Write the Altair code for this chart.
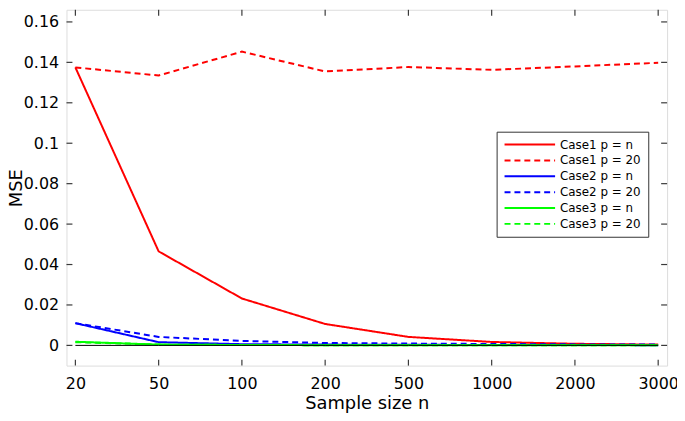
import altair as alt
import pandas as pd

# ---- data ----
sample_sizes = ["20", "50", "100", "200", "500", "1000", "2000", "3000"]
series_names = ["Case1 p = n", "Case1 p = 20", "Case2 p = n",
                "Case2 p = 20", "Case3 p = n", "Case3 p = 20"]
case1_pn = [0.1375, 0.0465, 0.0232, 0.0106, 0.0042, 0.0017, 0.0008, 0.0004]
case1_p20 = [0.1375, 0.1335, 0.1453, 0.1355, 0.1377, 0.1363, 0.1380, 0.1398]
case2_pn = [0.0110, 0.0016, 0.0006, 0.0004, 0.0003, 0.0002, 0.0002, 0.0001]
case2_p20 = [0.0110, 0.0042, 0.0022, 0.0012, 0.0009, 0.0007, 0.0005, 0.0004]
case3_pn = [0.0018, 0.0004, 0.0002, 0.0001, 0.0001, 0.0001, 0.0001, 0.0001]
case3_p20 = [0.0016, 0.0004, 0.0002, 0.0001, 0.0001, 0.0001, 0.0001, 0.0001]
zero_line = [0, 0, 0, 0, 0, 0, 0, 0]
y_ticks = [0, 0.02, 0.04, 0.06, 0.08, 0.1, 0.12, 0.14, 0.16]

colors = ["#ff0000", "#ff0000", "#0000ff", "#0000ff", "#00ff00", "#00ff00"]
dashes = [[1, 0], [6, 4], [1, 0], [6, 4], [1, 0], [6, 4]]

all_series = [case1_pn, case1_p20, case2_pn, case2_p20, case3_pn, case3_p20]
rows = []
for name, vals in zip(series_names, all_series):
    for n, v in zip(sample_sizes, vals):
        rows.append({"n": n, "mse": v, "series": name})
df = pd.DataFrame(rows)
zero_df = pd.DataFrame({"n": sample_sizes, "mse": zero_line})
ytick_df = pd.DataFrame({"v": y_ticks})
xtick_df = pd.DataFrame({"n": sample_sizes})

W, H = 606, 359
FONT = "DejaVu Sans"
FRAME = "#3a3a3a"

xscale = alt.Scale(type="point", padding=0.107, domain=sample_sizes)
yscale = alt.Scale(domain=[-0.01, 0.166], nice=False, zero=False)

x_enc = alt.X("n:O", scale=xscale, sort=sample_sizes,
              axis=alt.Axis(title="Sample size n", labelAngle=0, ticks=False,
                            domain=False, labelPadding=10, titleY=29,
                            labelFontSize=16, titleFontSize=18,
                            labelFont=FONT, titleFont=FONT,
                            labelColor="black", titleColor="black",
                            titleFontWeight="normal"))
y_enc = alt.Y("mse:Q", scale=yscale,
              axis=alt.Axis(title="MSE", values=y_ticks, ticks=False,
                            domain=False, grid=False, labelPadding=8,
                            titleX=-41.5, labelFontSize=16, titleFontSize=18,
                            labelFont=FONT, titleFont=FONT,
                            labelColor="black", titleColor="black",
                            titleFontWeight="normal",
                            labelExpr="datum.value == 0 ? '0' : format(datum.value, '.2~f')"))

lines = alt.Chart(df).mark_line(strokeWidth=2).encode(
    x=x_enc,
    y=y_enc,
    color=alt.Color("series:N", sort=series_names,
                    scale=alt.Scale(domain=series_names, range=colors),
                    legend=alt.Legend(title=None, orient="none",
                                      legendX=434, legendY=123,
                                      symbolType="M-1,0H9.2", symbolSize=100,
                                      symbolStrokeWidth=2, labelFontSize=12,
                                      labelFont=FONT, labelColor="black",
                                      rowPadding=4, padding=7,
                                      strokeColor="#333333", fillColor="white",
                                      labelOffset=45)),
    strokeDash=alt.StrokeDash("series:N", sort=series_names,
                              scale=alt.Scale(domain=series_names, range=dashes)),
)

zero = alt.Chart(zero_df).mark_line(color="black", strokeWidth=1).encode(
    x=alt.X("n:O", scale=xscale, sort=sample_sizes),
    y=alt.Y("mse:Q", scale=yscale),
)

tick_style = dict(color=FRAME, strokeWidth=1.2)
yl = alt.Chart(ytick_df).mark_rule(**tick_style).encode(
    y=alt.Y("v:Q", scale=yscale), x=alt.value(0), x2=alt.value(6))
yr = alt.Chart(ytick_df).mark_rule(**tick_style).encode(
    y=alt.Y("v:Q", scale=yscale), x=alt.value(W - 6), x2=alt.value(W))
xb = alt.Chart(xtick_df).mark_rule(**tick_style).encode(
    x=alt.X("n:O", scale=xscale, sort=sample_sizes), y=alt.value(H - 6), y2=alt.value(H))
xt = alt.Chart(xtick_df).mark_rule(**tick_style).encode(
    x=alt.X("n:O", scale=xscale, sort=sample_sizes), y=alt.value(0), y2=alt.value(6))

chart = alt.layer(lines, zero, yl, yr, xb, xt).properties(
    width=W, height=H,
    autosize=alt.AutoSizeParams(type="none"),
    padding={"left": 59, "top": 0, "right": 10, "bottom": 46},
).configure_view(stroke=FRAME, strokeWidth=1.6).configure_legend(
    strokeWidth=1.5
).configure(background="white")

chart.save("out.html", embed_options={"renderer": "svg", "actions": False})
